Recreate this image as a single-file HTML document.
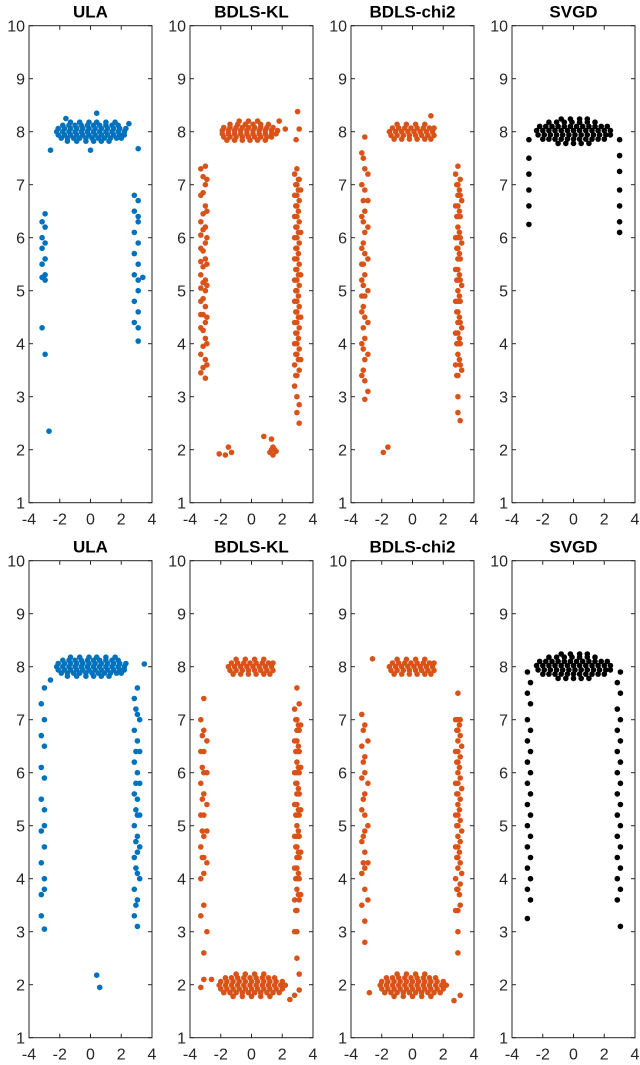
<!DOCTYPE html>
<html><head><meta charset="utf-8"><style>
html,body{margin:0;padding:0;background:#fff;}
svg{display:block;font-family:"Liberation Sans",sans-serif;}
</style></head><body>
<svg id="fig" width="640" height="1065" viewBox="0 0 640 1065" xmlns="http://www.w3.org/2000/svg"></svg>
<script>
// ---------- data (hand-estimated from the reference) ----------
const titles = ["ULA","BDLS-KL","BDLS-chi2","SVGD"];
const xTicks = [-4,-2,0,2,4];
const yTicks = [1,2,3,4,5,6,7,8,9,10];
const colors = ["#0072BD","#D95319","#D95319","#000000"];
// rows: [y, [x...]]   columns: [x, [y...]]   singles: [x,y]
const blobTop1 = [[7.82,[-1.5,-0.9,-0.3,0.2,0.7,1.2]],[7.88,[-1.9,-1.5,-1.1,-0.7,-0.3,0.1,0.5,0.9,1.3,1.7,2.0]],[7.94,[-2.1,-1.7,-1.3,-0.9,-0.5,-0.1,0.3,0.7,1.1,1.5,1.9,2.2]],[8.0,[-2.2,-1.8,-1.4,-1.0,-0.6,-0.2,0.2,0.6,1.0,1.4,1.8,2.2]],[8.06,[-2.1,-1.7,-1.3,-0.9,-0.5,-0.1,0.3,0.7,1.1,1.5,1.9,2.3]],[8.12,[-1.8,-1.4,-1.0,-0.6,-0.2,0.2,0.6,1.0,1.4,1.8]],[8.18,[-1.3,-0.7,-0.1,0.4,1.0,1.6]]];
const blobKL1 = [[7.84,[-1.6,-1.1,-0.6,-0.1,0.4,0.9]],[7.9,[-1.8,-1.4,-1.0,-0.6,-0.2,0.2,0.6,1.0,1.3]],[7.96,[-1.9,-1.5,-1.1,-0.7,-0.3,0.1,0.5,0.9,1.3,1.6]],[8.02,[-1.9,-1.5,-1.1,-0.7,-0.3,0.1,0.5,0.9,1.3,1.7]],[8.08,[-1.8,-1.4,-1.0,-0.6,-0.2,0.2,0.6,1.0,1.4]],[8.14,[-1.4,-0.9,-0.4,0.1,0.6,1.1]],[8.2,[-0.8,-0.2,0.4]]];
const blobChi1 = [[7.86,[-1.2,-0.7,-0.2,0.3,0.8,1.2]],[7.93,[-1.4,-1.0,-0.6,-0.2,0.2,0.6,1.0,1.4]],[8.0,[-1.5,-1.1,-0.7,-0.3,0.1,0.5,0.9,1.3]],[8.07,[-1.3,-0.9,-0.5,-0.1,0.3,0.7,1.1,1.4]],[8.14,[-1.0,-0.4,0.2,0.8]]];
const blobSv = [[7.78,[-1.0,-0.5,0,0.5,1.0]],[7.86,[-2.0,-1.6,-1.2,-0.8,-0.4,0,0.4,0.8,1.2,1.6,2.0]],[7.94,[-2.3,-1.9,-1.5,-1.1,-0.7,-0.3,0.1,0.5,0.9,1.3,1.7,2.1,2.4]],[8.02,[-2.4,-2.0,-1.6,-1.2,-0.8,-0.4,0,0.4,0.8,1.2,1.6,2.0,2.4]],[8.1,[-2.2,-1.8,-1.4,-1.0,-0.6,-0.2,0.2,0.6,1.0,1.4,1.8,2.2]],[8.18,[-1.6,-1.1,-0.6,-0.1,0.4,0.9,1.4]],[8.24,[-0.8,-0.2,0.4,0.9]]];
const blobBot = [[1.78,[-1.2,-0.6,0,0.6,1.2]],[1.85,[-1.8,-1.4,-1.0,-0.6,-0.2,0.2,0.6,1.0,1.4,1.8]],[1.92,[-2.0,-1.6,-1.2,-0.8,-0.4,0,0.4,0.8,1.2,1.6,2.0]],[1.99,[-2.1,-1.7,-1.3,-0.9,-0.5,-0.1,0.3,0.7,1.1,1.5,1.9,2.2]],[2.06,[-2.0,-1.6,-1.2,-0.8,-0.4,0,0.4,0.8,1.2,1.6,2.0]],[2.13,[-1.7,-1.3,-0.9,-0.5,-0.1,0.3,0.7,1.1,1.5]],[2.2,[-1.0,-0.4,0.2,0.8]]];

const panels = [
 { // ULA top
  blob: blobTop1,
  cols: [[-3.15,[6.3,6.0,5.8,5.5,5.25,4.3]],[-2.95,[6.45,6.2,5.9,5.6,5.3,5.2,3.8]],[2.85,[6.8,6.5,6.1,5.7,5.3,4.8,4.4]],[3.1,[6.7,6.4,6.3,5.9,5.5,5.2,5.0,4.6,4.3,4.05]]],
  pts: [[-2.6,7.65],[3.1,7.68],[-1.6,8.25],[0.4,8.35],[2.5,8.15],[0,7.65],[-2.7,2.35],[3.4,5.25]]
 },
 { // BDLS-KL top
  blob: blobKL1,
  cols: [[-3.3,[7.3,6.8,6.3,6.05,5.8,5.55,5.3,5.05,4.8,4.55,4.3,3.8,3.45]],[-3.15,[7.15,6.85,6.45,6.15,5.75,5.45,5.15,4.85,4.55,4.25,3.95,3.55]],[-3.0,[7.35,7.0,6.6,6.2,5.9,5.6,5.2,5.0,4.7,4.4,4.1,3.7,3.35]],[-2.9,[7.1,6.5,6.0,5.5,5.1,4.5,4.0,3.6]],[2.8,[7.2,6.8,6.4,6.0,5.6,5.2,4.8,4.4,4.0,3.6,3.2]],[2.88,[7.0,6.6,6.2,5.8,5.4,5.0,4.6,4.2,3.8,3.4]],[2.95,[7.3,7.0,6.8,6.6,6.4,6.2,6.0,5.8,5.6,5.4,5.2,5.0,4.8,4.6,4.4,4.2,4.0,3.8,3.4,3.0,2.7]],[3.05,[7.1,6.9,6.5,6.1,5.7,5.3,4.9,4.5,4.1,3.7]],[3.1,[7.1,6.7,6.3,5.9,5.5,5.1,4.7,4.3,3.9,3.5,2.85,2.5]],[3.2,[6.9,6.1,5.3,4.5,3.7]]],
  pts: [[3.0,8.38],[3.1,8.05],[2.9,7.85],[2.2,8.05],[1.8,8.2],[-2.1,1.92],[-1.7,1.9],[-1.5,2.05],[-1.3,1.95],[1.2,1.95],[1.3,2.0],[1.4,1.9],[1.4,2.05],[1.5,2.0],[1.3,2.2],[0.8,2.25],[1.6,1.97]]
 },
 { // BDLS-chi2 top
  blob: blobChi1,
  cols: [[-3.3,[7.6,7.0,6.4,5.8,5.5,5.2,4.9,4.6,4.0,3.4]],[-3.2,[7.5,6.7,6.3,5.9,5.5,5.1,4.7,4.3,3.9,3.5]],[-3.1,[7.9,7.3,6.9,6.5,6.1,5.7,5.3,4.9,4.5,4.1,3.7,3.3,2.95]],[-2.9,[7.2,6.7,6.2,5.6,5.0,4.4,3.8,3.1]],[2.8,[7.2,6.6,6.0,5.4,4.8,4.2,3.6]],[2.88,[7.0,6.4,5.8,5.2,4.6,4.0,3.4]],[2.95,[7.35,7.0,6.8,6.6,6.4,6.2,6.0,5.8,5.6,5.4,5.2,5.0,4.8,4.6,4.4,4.2,4.0,3.8,3.4,3.0,2.7]],[3.05,[6.9,6.5,6.1,5.7,5.3,4.9,4.5,4.1,3.7]],[3.1,[7.1,6.8,6.4,6.0,5.6,5.2,4.8,4.4,4.0,3.6,2.55]],[3.2,[6.7,5.9,5.1,4.3,3.5]]],
  pts: [[-1.9,1.95],[-1.6,2.05],[1.2,8.3]]
 },
 { // SVGD top
  blob: blobSv,
  cols: [[-2.9,[7.85,7.5,7.2,6.9,6.6,6.25]],[3.0,[7.85,7.55,7.25,6.9,6.6,6.3,6.1]]],
  pts: []
 },
 { // ULA bottom
  blob: blobTop1,
  cols: [[-3.2,[7.3,6.7,6.1,5.5,4.9,4.3,3.7,3.3]],[-3.0,[7.6,7.0,6.5,5.9,5.3,5.0,4.6,4.0,3.8,3.05]],[2.85,[7.4,6.8,6.2,5.6,5.0,4.4,3.8,3.3]],[2.95,[7.2,6.4,5.8,5.3,4.7,4.2,3.5]],[3.05,[7.6,7.1,6.6,6.0,5.5,5.2,4.8,4.5,4.1,3.6,3.1]],[3.2,[7.0,6.4,5.8,5.2,4.6,4.0]]],
  pts: [[3.5,8.05],[-2.6,7.75],[0.4,2.18],[0.6,1.95]]
 },
 { // BDLS-KL bottom
  blob: blobChi1,
  cols: [[-3.3,[7.0,6.4,5.8,5.2,4.6,4.0,3.3]],[-3.2,[6.7,6.1,5.5,4.9,4.4]],[-3.1,[7.4,6.8,6.4,6.0,5.6,5.2,4.8,4.4,4.1,3.5,2.6,2.1]],[-2.9,[6.6,6.0,5.4,4.9,4.3,3.0]],[2.8,[7.2,6.6,6.0,5.4,4.8,4.2,3.6,3.0]],[2.88,[7.0,6.4,5.8,5.2,4.6,4.0,3.4]],[2.95,[7.6,7.0,6.8,6.6,6.4,6.2,6.0,5.8,5.6,5.4,5.2,5.0,4.8,4.6,4.4,4.2,4.0,3.8,3.4,3.0,2.5]],[3.05,[6.9,6.5,6.1,5.7,5.3,4.9,4.5,4.1,3.7]],[3.1,[7.3,6.8,6.4,6.0,5.6,5.2,4.8,4.4,4.0,3.6,2.2,1.9]],[3.2,[6.9,6.1,5.3,4.5,3.7]]],
  pts: [[-3.3,1.95],[2.8,1.8],[2.5,1.72],[-2.6,2.1]],
  blob2: blobBot
 },
 { // BDLS-chi2 bottom
  blob: blobChi1,
  cols: [[-3.3,[7.1,6.5,5.9,5.3,4.7,4.1,3.5]],[-3.2,[6.8,6.2,5.5,4.8,4.3]],[-3.1,[6.9,6.3,6.0,5.6,5.2,4.9,4.5,4.2,3.8,3.2,2.8]],[-2.9,[6.6,5.8,5.0,4.3,3.6]],[2.8,[7.0,6.4,5.8,5.2,4.6,4.0,3.4]],[2.88,[6.8,6.2,5.6,5.0,4.4,3.8]],[2.95,[7.5,7.0,6.8,6.6,6.4,6.2,6.0,5.8,5.6,5.4,5.2,5.0,4.8,4.6,4.4,4.2,3.8,3.4,3.0,2.6]],[3.05,[6.9,6.1,5.3,4.5,3.7]],[3.1,[7.0,6.7,6.3,5.9,5.5,5.1,4.7,4.3,3.9,3.5,1.8]],[3.2,[6.5,5.7,4.9,4.1]]],
  pts: [[-2.6,8.15],[2.7,1.7],[-2.8,1.85]],
  blob2: blobBot
 },
 { // SVGD bottom
  blob: blobSv,
  cols: [[-3.0,[7.9,7.5,7.0,6.6,6.2,5.8,5.4,5.0,4.6,4.2,3.8,3.25]],[-2.8,[7.7,7.3,6.8,6.4,6.0,5.6,5.2,4.8,4.4,4.0,3.6]],[2.85,[7.7,7.2,6.8,6.4,6.0,5.6,5.2,4.8,4.4,4.0,3.6]],[3.05,[7.9,7.5,7.0,6.6,6.2,5.8,5.4,5.0,4.6,4.2,3.8,3.1]]],
  pts: []
 }
];

// ---------- drawing ----------
const NS = "http://www.w3.org/2000/svg";
const svg = document.getElementById("fig");
const W = 123, L0 = 29, DX = 161, TOP = [25.7, 560.7], UNIT = 53;
function el(tag, attrs, parent) {
  const e = document.createElementNS(NS, tag);
  for (const k in attrs) e.setAttribute(k, attrs[k]);
  (parent || svg).appendChild(e);
  return e;
}
panels.forEach((p, i) => {
  const col = i % 4, row = Math.floor(i / 4);
  const L = L0 + DX * col, T = TOP[row], B = T + 9 * UNIT;
  const xs = v => L + (v + 4) / 8 * W;
  const ys = v => T + (10 - v) * UNIT;
  const g = el("g", {});
  
  
  const t = el("text", {x: L + W / 2, y: T - 8, "text-anchor": "middle", "font-size": 17, "font-weight": "bold", fill: "#000"}, g);
  t.textContent = titles[col];
  
  
  const marks = el("g", {fill: colors[col]}, g);
  
  
  const dot = (x, y) => {
    const c = el("circle", {cx: xs(x).toFixed(1), cy: ys(y).toFixed(1), r: 2.8}, marks);
    
    
  };
  [p.blob, p.blob2].forEach(b => { if (b) b.forEach(r => r[1].forEach(x => dot(x, r[0]))); });
  p.cols.forEach(c => c[1].forEach(y => dot(c[0], y)));
  p.pts.forEach(q => dot(q[0], q[1]));
  const ax = el("g", {stroke: "#262626", "stroke-width": 1, fill: "none"}, g);
  
  
  el("rect", {x: L, y: T, width: W, height: B - T}, ax);
  yTicks.forEach(v => {
    const y = ys(v);
    el("line", {x1: L, x2: L + 4, y1: y, y2: y}, ax);
    el("line", {x1: L + W - 4, x2: L + W, y1: y, y2: y}, ax);
    const lb = el("text", {x: L - 4, y: y + 6, "text-anchor": "end", "font-size": 16, fill: "#262626", stroke: "none"}, g);
    lb.textContent = v;
    
    
  });
  xTicks.forEach(v => {
    const x = xs(v);
    el("line", {x1: x, x2: x, y1: B, y2: B - 4}, ax);
    el("line", {x1: x, x2: x, y1: T, y2: T + 4}, ax);
    const lb = el("text", {x: x, y: B + 22, "text-anchor": "middle", "font-size": 16, fill: "#262626", stroke: "none"}, g);
    lb.textContent = v;
    
    
  });
});
</script>
</body></html>
